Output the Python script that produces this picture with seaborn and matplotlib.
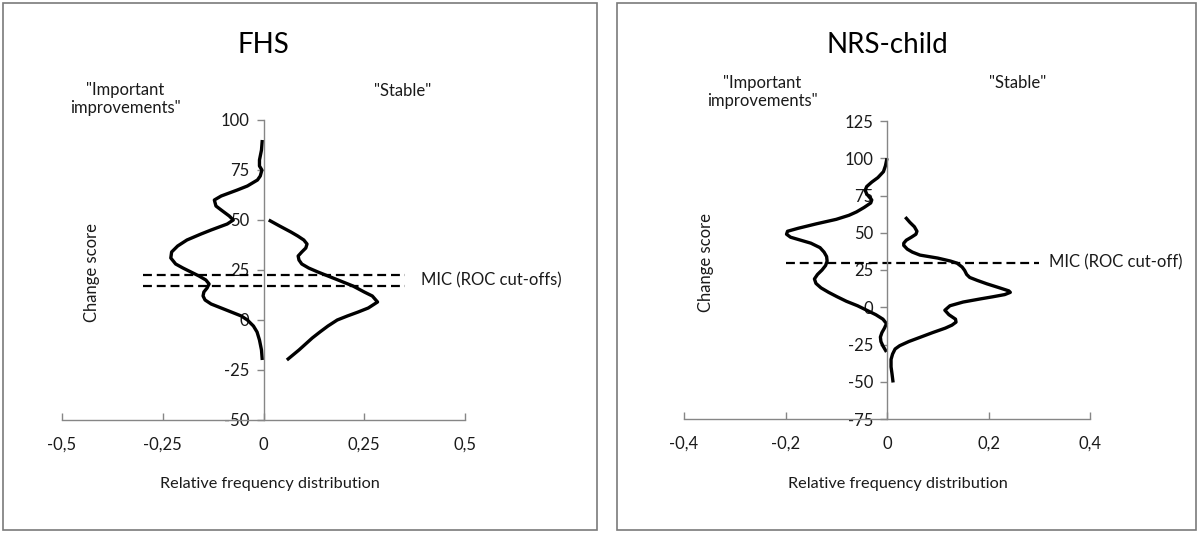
import matplotlib
matplotlib.use("Agg")
import matplotlib.pyplot as plt
import seaborn as sns
import pandas as pd
from matplotlib.patches import Rectangle

# ---------------- data ----------------
# FHS - "Important improvements" (plotted as negative frequencies)
fhs_imp_y = [90, 85, 80, 77, 75, 72, 70, 67, 65, 62, 60, 57, 55, 52, 50, 48, 45, 43, 40, 37, 34, 31,
             28, 26, 24, 22, 20, 18, 16, 14, 12, 10, 8, 6, 4, 2, 0, -3, -6, -10, -15, -20]
fhs_imp_x = [-0.003, -0.005, -0.010, -0.010, -0.004, -0.008, -0.015, -0.040, -0.065, -0.105, -0.122,
             -0.118, -0.105, -0.085, -0.075, -0.090, -0.130, -0.155, -0.190, -0.213, -0.228, -0.230,
             -0.218, -0.200, -0.180, -0.160, -0.143, -0.135, -0.140, -0.148, -0.150, -0.145, -0.130,
             -0.105, -0.080, -0.055, -0.040, -0.025, -0.016, -0.010, -0.005, -0.003]
# FHS - "Stable"
fhs_stb_y = [50, 47, 44, 42, 40, 38, 36, 34, 32, 30, 28, 26, 24, 22, 20, 17, 14, 12, 9, 6, 4, 2, 0,
             -3, -6, -9, -15, -20]
fhs_stb_x = [0.013, 0.040, 0.068, 0.085, 0.100, 0.108, 0.105, 0.095, 0.086, 0.088, 0.095, 0.112,
             0.135, 0.160, 0.185, 0.222, 0.250, 0.270, 0.283, 0.260, 0.235, 0.208, 0.183, 0.160,
             0.140, 0.121, 0.088, 0.058]
fhs_mic = [22.5, 17]

# NRS-child - "Important improvements"
nrs_imp_y = [100, 95, 91, 87, 84, 81, 78.5, 76, 74, 72, 70, 67, 64, 61.7, 59, 56, 53, 51, 49, 47, 45,
             43, 40, 37, 34, 31, 28, 25, 22, 19, 16, 13, 10, 7, 4, 1, -2, -5, -8, -11, -14, -17, -20,
             -23, -26, -30]
nrs_imp_x = [0.0, -0.003, -0.007, -0.018, -0.030, -0.040, -0.043, -0.040, -0.035, -0.030, -0.032,
             -0.045, -0.060, -0.075, -0.100, -0.139, -0.175, -0.196, -0.198, -0.190, -0.170, -0.150,
             -0.132, -0.124, -0.119, -0.118, -0.121, -0.128, -0.137, -0.143, -0.140, -0.130, -0.115,
             -0.098, -0.080, -0.058, -0.040, -0.022, -0.008, -0.001, -0.005, -0.010, -0.013, -0.012,
             -0.008, -0.001]
# NRS-child - "Stable"
nrs_stb_y = [60.5, 57, 54, 51, 49, 47, 45, 43, 41.5, 39, 37, 35, 33, 31, 29.6, 27, 24.7, 22, 20, 18,
             15.7, 13, 11, 10, 8.5, 7, 5.6, 3.5, 1, -2, -5, -8, -10, -12, -14, -17, -20.2, -23, -25.8,
             -28, -31.4, -35, -40, -45, -50.5]
nrs_stb_x = [0.036, 0.045, 0.054, 0.059, 0.057, 0.048, 0.038, 0.033, 0.033, 0.040, 0.050, 0.065,
             0.100, 0.125, 0.138, 0.148, 0.153, 0.157, 0.163, 0.178, 0.197, 0.222, 0.240, 0.243,
             0.232, 0.208, 0.184, 0.150, 0.124, 0.114, 0.122, 0.135, 0.136, 0.128, 0.115, 0.090,
             0.065, 0.043, 0.025, 0.016, 0.011, 0.008, 0.008, 0.010, 0.012]
nrs_mic = [30]

fhs_xticks = [-0.5, -0.25, 0, 0.25, 0.5]
fhs_xticklabels = ['-0,5', '-0,25', '0', '0,25', '0,5']
fhs_yticks = [-50, -25, 0, 25, 50, 75, 100]
nrs_xticks = [-0.4, -0.2, 0, 0.2, 0.4]
nrs_xticklabels = ['-0,4', '-0,2', '0', '0,2', '0,4']
nrs_yticks = [-75, -50, -25, 0, 25, 50, 75, 100, 125]

# ---------------- style ----------------
sns.set_theme(style="white")
plt.rcParams['font.family'] = ['Lato', 'DejaVu Sans']
plt.rcParams['axes.unicode_minus'] = False

W, H = 1200, 533
fig = plt.figure(figsize=(12, 5.33), dpi=100)


def fx(px):
    return px / W


def fy(py):
    return 1 - py / H


GRAY = '#868686'
TXT = '#1a1a1a'

# panel borders
for x0, x1 in [(3, 597), (617, 1196)]:
    fig.patches.append(Rectangle((fx(x0), fy(530)), fx(x1) - fx(x0), fy(3) - fy(530),
                                 transform=fig.transFigure, fill=False, ec='#7a7a7a', lw=1.2))


def setup(ax, xlim, ylim, xticks, xlabels, yticks):
    ax.set_xlim(*xlim)
    ax.set_ylim(*ylim)
    ax.spines['top'].set_visible(False)
    ax.spines['right'].set_visible(False)
    ax.spines['left'].set_position(('data', 0))
    for s in ['left', 'bottom']:
        ax.spines[s].set_color(GRAY)
        ax.spines[s].set_linewidth(1.0)
    ax.set_xticks(xticks)
    ax.set_xticklabels(xlabels)
    ax.set_yticks(yticks)
    ax.set_yticklabels([str(v) for v in yticks])
    ax.tick_params(axis='x', direction='in', length=5, width=1, color=GRAY, pad=12,
                   labelsize=12, labelcolor=TXT, bottom=True)
    ax.tick_params(axis='y', direction='out', length=5, width=1, color=GRAY, pad=5,
                   labelsize=12, labelcolor=TXT, left=True)
    ax.set_xlabel('')
    ax.set_ylabel('')
    ax.patch.set_alpha(0)


def draw_curve(ax, xs, ys):
    df = pd.DataFrame({'x': xs, 'y': ys})
    sns.lineplot(data=df, x='x', y='y', sort=False, estimator=None, color='black', lw=2.4, ax=ax,
                 solid_joinstyle='round', solid_capstyle='butt')


def draw_mic(ax, levels, x0, x1):
    for lv in levels:
        df = pd.DataFrame({'x': [x0, x1], 'y': [lv, lv]})
        sns.lineplot(data=df, x='x', y='y', sort=False, estimator=None, color='black', lw=1.6,
                     ax=ax, dashes=False, linestyle=(0, (4, 2.2)))


# ---------------- FHS ----------------
ax1 = fig.add_axes([fx(62), fy(420), fx(465) - fx(62), fy(120) - fy(420)])
draw_mic(ax1, fhs_mic, -0.3, 0.35)
draw_curve(ax1, fhs_imp_x, fhs_imp_y)
draw_curve(ax1, fhs_stb_x, fhs_stb_y)
setup(ax1, (-0.5, 0.5), (-50, 100), fhs_xticks, fhs_xticklabels, fhs_yticks)
ax1.text(0.39, 20, 'MIC (ROC cut-offs)', fontsize=12, color=TXT, va='center', ha='left')

fig.text(fx(263), fy(45), 'FHS', fontsize=20, ha='center', va='center', color='black')
fig.text(fx(125), fy(99), '"Important\nimprovements"', fontsize=12, ha='center', va='center',
         color=TXT, linespacing=1.2)
fig.text(fx(403), fy(91), '"Stable"', fontsize=12, ha='center', va='center', color=TXT)
fig.text(fx(92), fy(273), 'Change score', fontsize=12, ha='center', va='center', rotation=90, color=TXT)
fig.text(fx(270), fy(484), 'Relative frequency distribution', fontsize=11.7, ha='center', va='center',
         color=TXT)

# ---------------- NRS-child ----------------
ax2 = fig.add_axes([fx(684), fy(419), fx(1090) - fx(684), fy(121) - fy(419)])
draw_mic(ax2, nrs_mic, -0.2, 0.3)
draw_curve(ax2, nrs_imp_x, nrs_imp_y)
draw_curve(ax2, nrs_stb_x, nrs_stb_y)
setup(ax2, (-0.4, 0.4), (-75, 125), nrs_xticks, nrs_xticklabels, nrs_yticks)
ax2.text(0.32, 30, 'MIC (ROC cut-off)', fontsize=12, color=TXT, va='center', ha='left')

fig.text(fx(887), fy(45), 'NRS-child', fontsize=20, ha='center', va='center', color='black')
fig.text(fx(762), fy(92), '"Important\nimprovements"', fontsize=12, ha='center', va='center',
         color=TXT, linespacing=1.2)
fig.text(fx(1018), fy(83), '"Stable"', fontsize=12, ha='center', va='center', color=TXT)
fig.text(fx(706), fy(263), 'Change score', fontsize=12, ha='center', va='center', rotation=90, color=TXT)
fig.text(fx(898), fy(484), 'Relative frequency distribution', fontsize=11.7, ha='center', va='center',
         color=TXT)

fig.savefig('out.png', dpi=100)
